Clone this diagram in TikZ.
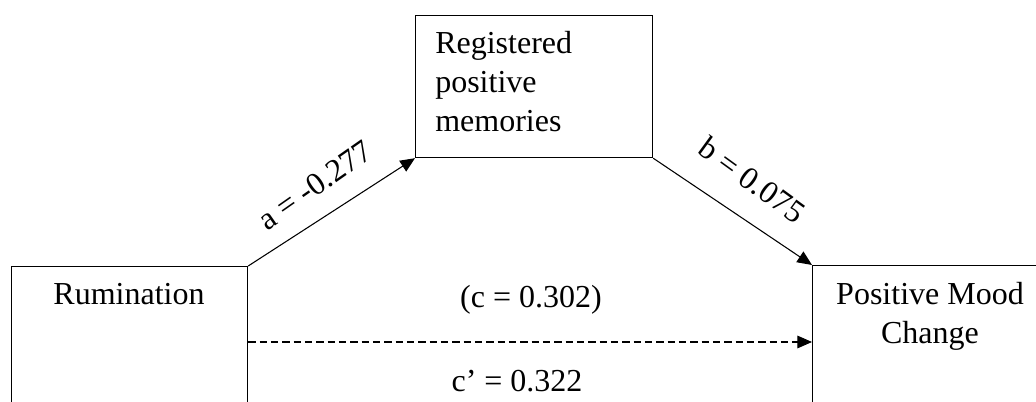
\documentclass[tikz,border=0pt]{standalone}
\usepackage{fontspec}
\setmainfont{Liberation Serif}
\usetikzlibrary{arrows.meta,calc}
\begin{document}
\begin{tikzpicture}[x=0.75pt,y=-0.75pt,
  box/.style={draw,line width=0.9pt,inner sep=0pt,anchor=north west},
  lbl/.style={inner sep=0pt,font=\fontsize{24}{29.25}\selectfont},
  arr/.style={line width=0.8pt,-{Triangle[length=11pt,width=9.5pt]}},
  dsh/.style={dash pattern=on 5.5pt off 3pt}]
\useasboundingbox (0,0) rectangle (1036,402);
\clip (0,0) rectangle (1036,402);
% boxes
\node[box,minimum width=177pt,minimum height=135pt] (rum) at (11,266) {};
\node[box,minimum width=177.75pt,minimum height=106.5pt] (reg) at (415,15) {};
\node[box,minimum width=177pt,minimum height=135pt] (pmc) at (812,265) {};
% box texts
\node[lbl,anchor=base] (rumt) at (129,305) {Rumination};
\node[lbl,anchor=base west,align=left] (regt) at (435,132) {Registered\\positive\\memories};
\node[lbl,anchor=base,align=center] (pmct) at (930,344) {Positive Mood\\Change};
% connectors
\draw[arr] (rum.north east) -- (reg.south west);
\draw[arr] (reg.south east) -- (pmc.north west);
\coordinate (d) at (0,342);
\draw[arr,dsh] (rum.east |- d) -- (pmc.west |- d);
% labels
\node[lbl,rotate=35] (la) at (315,185) {a = -0.277};
\node[lbl,rotate=-36] (lb) at (752,180) {b = 0.075};
\node[lbl,anchor=base] (lc) at (531,308) {(c = 0.302)};
\node[lbl,anchor=base] (lcp) at (517,392) {c’ = 0.322};
\end{tikzpicture}
\end{document}
